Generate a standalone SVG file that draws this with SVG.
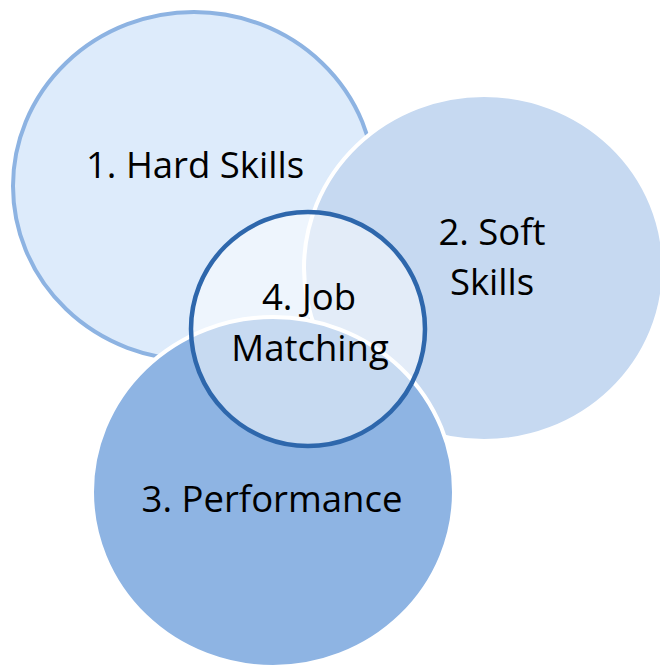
<svg xmlns="http://www.w3.org/2000/svg" width="660" height="665" viewBox="0 0 660 665">
<style>
.t{font-family:"Open Sans","Liberation Sans",sans-serif;font-size:36.5px;fill:#000;text-anchor:middle}
</style>
<rect width="660" height="665" fill="#fff"/>
<g id="hard-skills">
<ellipse cx="194" cy="186" rx="181" ry="174" fill="#DDEBFB" stroke="#8DB3E2" stroke-width="4"/>
<text class="t" x="195" y="178">1. Hard Skills</text>
</g>
<g id="soft-skills">
<ellipse cx="484" cy="268" rx="180" ry="173" fill="#C6D9F1" stroke="#fff" stroke-width="4"/>
<text class="t" x="492" y="245">2. Soft</text>
<text class="t" x="492" y="295">Skills</text>
</g>
<g id="performance">
<ellipse cx="273" cy="492" rx="181" ry="175" fill="#8EB4E3" stroke="#fff" stroke-width="4"/>
<text class="t" x="272" y="512">3. Performance</text>
</g>
<g id="job-matching">
<circle cx="308" cy="329" r="117" fill="#fff" fill-opacity="0.5" stroke="#2E67AC" stroke-width="4.5"/>
<text class="t" x="309" y="310">4. Job</text>
<text class="t" x="310" y="361">Matching</text>
</g>
<g id="connectors"/>
</svg>
